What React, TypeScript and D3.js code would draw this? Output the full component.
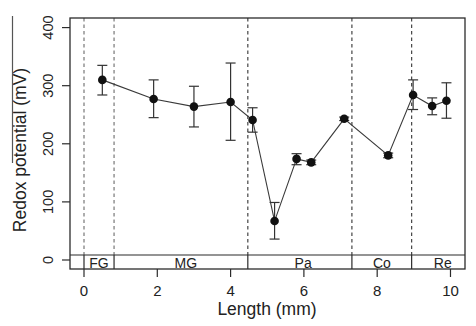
import React from "react";
import * as d3 from "d3";

const lengthMm = [0.5, 1.9, 3.0, 4.0, 4.6, 5.2, 5.8, 6.2, 7.1, 8.3, 8.98, 9.5, 9.89];
const redox = [310, 277, 264, 272, 241, 67, 174, 168, 243, 180, 284, 265, 274];
const redoxLow = [284, 245, 229, 206, 220, 36, 164, 164, 240, 176, 259, 250, 244];
const redoxHigh = [335, 310, 299, 339, 262, 99, 183, 172, 246, 184, 310, 279, 305];

const boundaries = [0, 0.82, 4.47, 7.31, 8.94];
const segmentNames = ["FG", "MG", "Pa", "Co", "Re"];
const segmentLabelPos = [0.41, 2.78, 5.98, 8.13, 9.79];

const xTicks = [0, 2, 4, 6, 8, 10];
const yTicks = [0, 100, 200, 300, 400];

const W = 476;
const H = 326;
const left = 70;
const right = 465;
const top = 18;
const bottom = 269;
const stripTop = 255;

export default function App() {
  const x = d3.scaleLinear().domain([-0.382, 10.396]).range([left, right]);
  const y = d3.scaleLinear().domain([-15.5, 416.5]).range([bottom, top]);
  const pts: [number, number][] = lengthMm.map((v, i) => [x(v), y(redox[i])]);
  const line = d3.line()(pts) || "";
  const font = "Liberation Sans, Arial, sans-serif";
  const ink = "#2b2b2b";

  return (
    <svg
      width={W}
      height={H}
      style={{ position: "absolute", left: 0, top: 0, background: "#fff" }}
      fontFamily={font}
    >
      {/* dashed boundaries */}
      {boundaries.map((b, i) => (
        <line
          key={"d" + i}
          x1={x(b)}
          x2={x(b)}
          y1={top}
          y2={stripTop}
          stroke={i < 2 ? "#777" : "#444"}
          strokeWidth={1.2}
          strokeDasharray="3.5,3"
        />
      ))}
      {/* strip */}
      <line x1={left} x2={right} y1={stripTop} y2={stripTop} stroke={ink} strokeWidth={1.2} />
      {boundaries.map((b, i) => (
        <line key={"s" + i} x1={x(b)} x2={x(b)} y1={stripTop} y2={bottom} stroke={ink} strokeWidth={1.2} />
      ))}
      {segmentNames.map((n, i) => (
        <text
          key={"n" + i}
          x={x(segmentLabelPos[i])}
          y={bottom - 1.5}
          textAnchor="middle"
          fontSize={14}
          fill="#222"
        >
          {n}
        </text>
      ))}
      {/* line */}
      <path d={line} fill="none" stroke="#3a3a3a" strokeWidth={1.1} />
      {/* error bars */}
      {lengthMm.map((v, i) => {
        const cx = x(v);
        return (
          <g key={"e" + i} stroke="#333" strokeWidth={1.2}>
            <line x1={cx} x2={cx} y1={y(redoxLow[i])} y2={y(redoxHigh[i])} />
            <line x1={cx - 5} x2={cx + 5} y1={y(redoxLow[i])} y2={y(redoxLow[i])} />
            <line x1={cx - 5} x2={cx + 5} y1={y(redoxHigh[i])} y2={y(redoxHigh[i])} />
          </g>
        );
      })}
      {pts.map((p, i) => (
        <circle key={"p" + i} cx={p[0]} cy={p[1]} r={4.3} fill="#111" />
      ))}
      {/* frame */}
      <rect x={left} y={top} width={right - left} height={bottom - top} fill="none" stroke={ink} strokeWidth={1.3} />
      {/* x axis */}
      {xTicks.map((t) => (
        <g key={"x" + t}>
          <line x1={x(t)} x2={x(t)} y1={bottom} y2={bottom + 8} stroke={ink} strokeWidth={1.2} />
          <text x={x(t)} y={296} textAnchor="middle" fontSize={15} fill="#222">
            {t}
          </text>
        </g>
      ))}
      {/* y axis */}
      {yTicks.map((t) => (
        <g key={"y" + t}>
          <line x1={left} x2={left - 8} y1={y(t)} y2={y(t)} stroke={ink} strokeWidth={1.2} />
          <text
            transform={`translate(53,${y(t)}) rotate(-90)`}
            textAnchor="middle"
            fontSize={14.5}
            fill="#222"
          >
            {t}
          </text>
        </g>
      ))}
      <text x={267} y={315} textAnchor="middle" fontSize={17.5} fill="#222">
        Length (mm)
      </text>
      <text transform="translate(26,150) rotate(-90)" textAnchor="middle" fontSize={17.5} fill="#222">
        Redox potential (mV)
      </text>
      <line x1={12.5} x2={12.5} y1={16} y2={163} stroke="#555" strokeWidth={1.2} />
    </svg>
  );
}
